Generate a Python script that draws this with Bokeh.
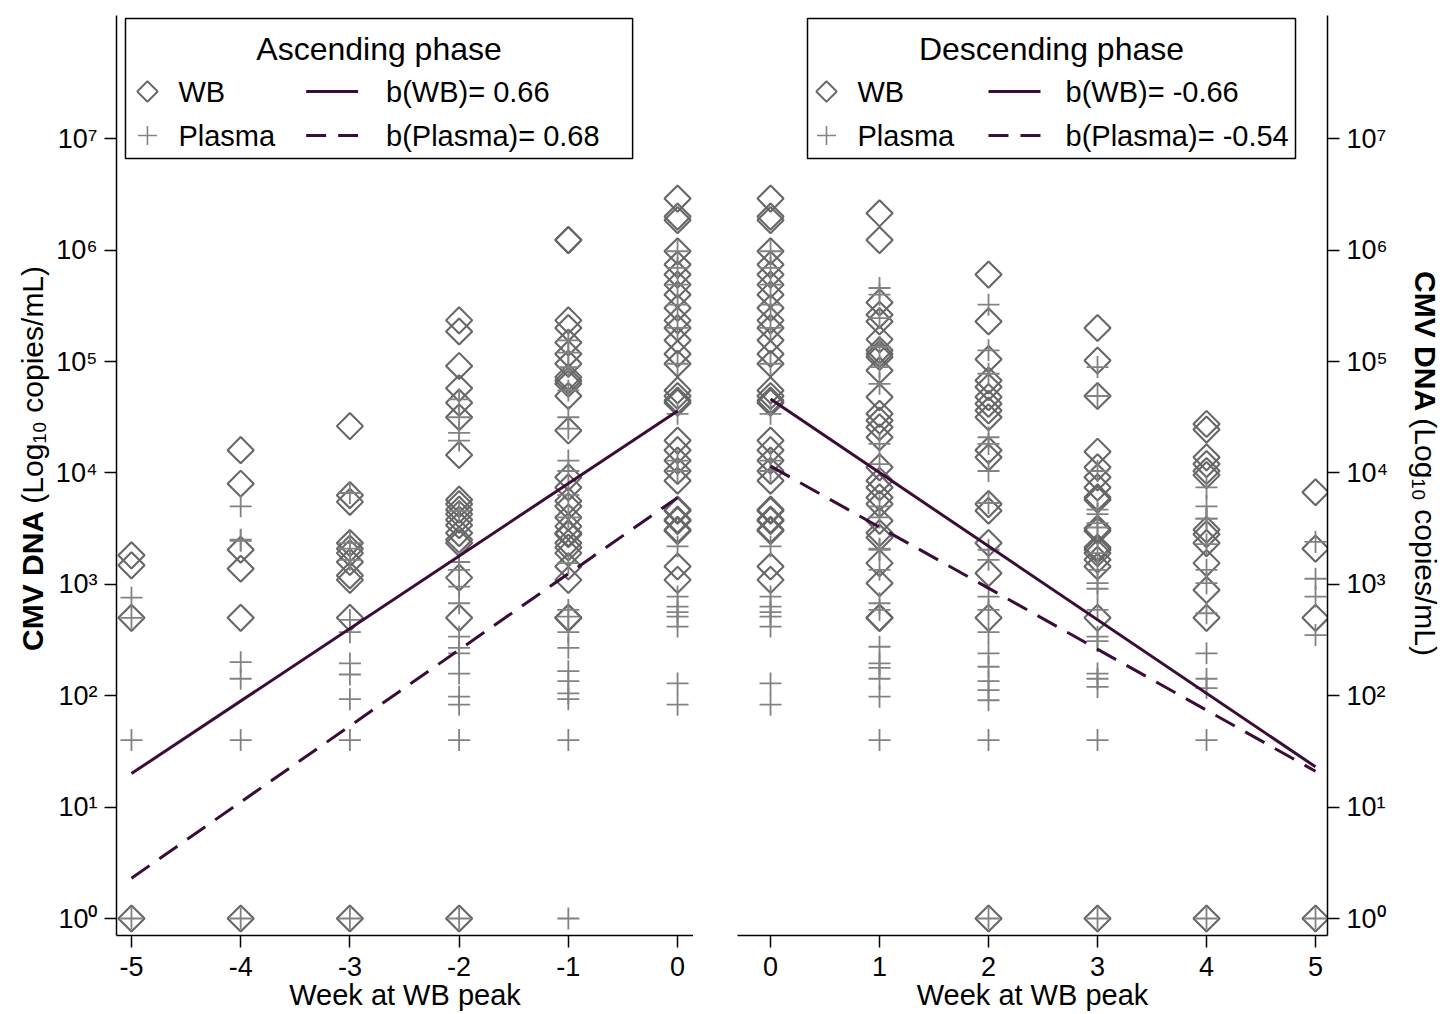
import math
from bokeh.plotting import figure
from bokeh.models import Range1d, FixedTicker, Label, BoxAnnotation
from bokeh.layouts import row
from bokeh.embed import file_html
from bokeh.resources import INLINE

# ---------------- data (CMV DNA copies/mL) ----------------
weeks_asc = [-5, -4, -3, -2, -1, 0]
weeks_desc = [0, 1, 2, 3, 4, 5]

# Whole blood (WB), ascending phase
wb_m5 = [1820, 1480, 500, 1]
wb_m4 = [16000, 8000, 2042, 1380, 500, 1]
wb_m3 = [26300, 6310, 5495, 2344, 2089, 1905, 1585, 1202, 1096, 500, 1]
wb_m2 = [234000, 186000, 91200, 57500, 42700, 31600, 14500, 5754, 5248, 4677,
         4266, 3802, 3388, 2884, 2512, 2344, 1148, 500, 1]
wb_m1 = [1230000, 1230000, 234000, 200000, 148000, 117000, 95500, 72400, 67600,
         63100, 49000, 24000, 9120, 7413, 5600, 5012, 3981, 3311, 2884, 2818,
         2344, 2138, 1905, 1445, 1096, 500, 500]
# week 0 (WB peak) is shared by both phases
wb_0 = [2900000, 2000000, 1860000, 977000, 741000, 603000, 490000, 398000, 302000,
        234000, 200000, 155000, 117000, 95500, 55000, 49000, 44700, 42700, 19500,
        16000, 12900, 10400, 8511, 4677, 4571, 3802, 3715, 3090, 3020, 1445, 1096]
# WB, descending phase
wb_p1 = [2140000, 1230000, 339000, 263000, 229000, 158000, 126000, 117000, 110000,
         83200, 47900, 33900, 29500, 25700, 20900, 11220, 8511, 7413, 6026, 5248,
         3715, 2884, 2630, 1549, 1023, 500, 500]
wb_p2 = [603000, 229000, 105000, 67600, 58900, 47900, 41700, 36300, 31600, 16000,
         13800, 5248, 4571, 2344, 1259, 500, 1]
wb_p3 = [200000, 102000, 49000, 15500, 11220, 9120, 7413, 6026, 5754, 3162, 3020,
         2138, 2042, 1905, 1660, 1445, 500, 1]
wb_p4 = [27500, 24500, 13800, 12000, 10400, 9550, 3090, 2818, 2344, 1549, 891, 500, 1]
wb_p5 = [6700, 2089, 500, 1]

# Plasma, ascending phase
pl_m5 = [759, 500, 40, 1]
pl_m4 = [5012, 2512, 2455, 200, 142, 40, 1]
pl_m3 = [6600, 2344, 2089, 1660, 479, 372, 195, 155, 93, 40, 1]
pl_m2 = [45700, 31600, 22900, 19500, 4571, 1585, 1349, 955, 676, 339, 269, 240,
         158, 98, 83, 40, 1]
pl_m1 = [155000, 120000, 89100, 55000, 31600, 25000, 12900, 10400, 6310, 3981,
         1549, 589, 513, 372, 269, 166, 135, 105, 93, 40, 1]
pl_0 = [977000, 692000, 490000, 324000, 200000, 95500, 33900, 12900, 10400, 2188,
        776, 631, 562, 513, 417, 129, 83]
# Plasma, descending phase
pl_p1 = [457000, 398000, 245000, 135000, 89100, 63100, 18200, 12000, 5012, 3981,
         2089, 2042, 1349, 676, 589, 275, 195, 178, 142, 98, 40]
pl_p2 = [324000, 126000, 77600, 20900, 18200, 10400, 5370, 2042, 1660, 776, 589,
         372, 240, 182, 135, 112, 91, 40, 1]
pl_p3 = [89100, 49000, 10400, 4677, 4266, 3548, 3236, 1905, 1349, 1023, 912, 589,
         339, 309, 158, 142, 120, 40, 1]
pl_p4 = [7413, 5012, 3890, 3890, 2291, 1349, 1023, 550, 240, 142, 117, 40, 1]
pl_p5 = [2400, 1122, 776, 350, 1]

# fitted regression lines (values at the ends of each phase)
fit_weeks_asc = [-5, 0]
fit_wb_asc = [20, 36000]
fit_pl_asc = [2.3, 6000]
fit_weeks_desc = [0, 5]
fit_wb_desc = [46000, 23]
fit_pl_desc = [11500, 21]

slope_labels_asc = ["b(WB)= 0.66", "b(Plasma)= 0.68"]
slope_labels_desc = ["b(WB)= -0.66", "b(Plasma)= -0.54"]
series_labels = ["WB", "Plasma"]
phase_titles = ["Ascending phase", "Descending phase"]
y_tick_exponents = [0, 1, 2, 3, 4, 5, 6, 7]
x_title = "Week at WB peak"
y_title_bold = "CMV DNA"
y_title_rest = "(Log\u2081\u2080 copies/mL)"

# ---------------- styling / layout ----------------
FONT = "Liberation Sans"
DIA_COLOR = "#676767"
CROSS_COLOR = "#828282"
FIT_COLOR = "#3a0c38"
DASH = "22 12"
H = 1014           # height of every figure
FT, FB = 15, 935   # frame top / bottom (page px)
LS, LE = -0.1526, 8.106  # log10 limits of the y-range
SUP = {0: "\u2070", 1: "\u00b9", 2: "\u00b2", 3: "\u00b3", 4: "\u2074",
       5: "\u2075", 6: "\u2076", 7: "\u2077"}

TL_W = 52          # left title strip
P1_X0 = TL_W
P2_X0 = 693
P2_W = 702
TR_X0 = P2_X0 + P2_W
TR_W = 52


def flatten(weeks, cols):
    xs, ys = [], []
    for w, vals in zip(weeks, cols):
        xs += [w] * len(vals)
        ys += list(vals)
    return xs, ys


def make_fig(width, xr, mbl, mbr, yloc, weeks):
    p = figure(width=width, height=H, x_range=Range1d(*xr),
               y_range=Range1d(10 ** LS, 10 ** LE), y_axis_type="log",
               y_axis_location=yloc, output_backend="svg", toolbar_location=None,
               min_border_left=mbl, min_border_right=mbr, min_border_top=FT,
               min_border_bottom=H - FB)
    p.outline_line_color = None
    p.grid.visible = False
    p.background_fill_color = "white"
    p.border_fill_color = "white"
    for ax in list(p.xaxis) + list(p.yaxis):
        ax.axis_line_color = "black"
        ax.axis_line_width = 1.5
        ax.major_tick_line_color = "black"
        ax.major_tick_line_width = 1.5
        ax.major_tick_out = 12
        ax.major_tick_in = 0
        ax.minor_tick_line_color = None
        ax.major_label_text_font = FONT
        ax.major_label_text_font_size = "27px"
        ax.major_label_text_color = "black"
    p.yaxis.ticker = FixedTicker(ticks=[10 ** e for e in y_tick_exponents])
    ov = {}
    for e in y_tick_exponents:
        ov[10 ** e] = "10" + SUP[e]
        ov[str(10 ** e)] = "10" + SUP[e]
    p.yaxis.major_label_overrides = ov
    p.yaxis.major_label_standoff = 7
    p.xaxis.ticker = FixedTicker(ticks=weeks)
    xov = {}
    for w in weeks:
        xov[w] = str(w)
        xov[str(w)] = str(w)
    p.xaxis.major_label_overrides = xov
    p.xaxis.major_label_standoff = 9
    p.xaxis.axis_label = x_title
    p.xaxis.axis_label_standoff = 0
    p.xaxis.axis_label_text_font = FONT
    p.xaxis.axis_label_text_font_size = "29px"
    p.xaxis.axis_label_text_font_style = "normal"
    p.xaxis.axis_label_text_color = "black"
    return p


def strip(width, x0):
    s = figure(width=width, height=H,
               x_range=Range1d(x0, x0 + width), y_range=Range1d(H, 0),
               x_axis_location=None, y_axis_location=None,
               output_backend="svg", toolbar_location=None,
               min_border=0, min_border_left=0, min_border_right=0,
               min_border_top=0, min_border_bottom=0)
    s.outline_line_color = None
    s.grid.visible = False
    s.background_fill_color = "white"
    s.border_fill_color = "white"
    return s


def mappers(fl, fr, xs, xe):
    X = lambda px: xs + (px - fl) * (xe - xs) / (fr - fl)
    Y = lambda py: 10 ** (LS + (FB - py) * (LE - LS) / (FB - FT))
    return X, Y


def draw_panel(p, weeks, wb_cols, pl_cols, fw, fwb, fpl):
    wx, wy = flatten(weeks, wb_cols)
    px_, py_ = flatten(weeks, pl_cols)
    p.scatter(wx, wy, marker="square", angle=math.pi / 4, size=18.5,
              fill_color=None, line_color=DIA_COLOR, line_width=2.1)
    p.scatter(px_, py_, marker="cross", size=22, line_color=CROSS_COLOR,
              line_width=1.8)
    p.line(fw, fwb, line_color=FIT_COLOR, line_width=3)
    p.line(fw, fpl, line_color=FIT_COLOR, line_width=3, line_dash=DASH)


def draw_legend(p, X, Y, box, title, slope_labels, mx, tx, l0, l1, stx):
    left, top, right, bottom = box
    p.add_layout(BoxAnnotation(left=X(left), right=X(right), top=Y(top),
                               bottom=Y(bottom), fill_color=None, fill_alpha=0,
                               line_color="black", line_alpha=1.0,
                               line_width=1.5))
    p.add_layout(Label(x=X((left + right) / 2), y=Y(48), text=title,
                       text_align="center", text_baseline="middle",
                       text_font=FONT, text_font_size="32px",
                       text_color="black"))
    rows = [91, 135]
    p.scatter([X(mx)], [Y(rows[0])], marker="square", angle=math.pi / 4,
              size=14.5, fill_color=None, line_color=DIA_COLOR, line_width=1.8)
    p.scatter([X(mx)], [Y(rows[1])], marker="cross", size=19,
              line_color=CROSS_COLOR, line_width=1.6)
    p.line([X(l0), X(l1)], [Y(rows[0])] * 2, line_color=FIT_COLOR, line_width=3)
    p.line([X(l0), X(l1)], [Y(rows[1])] * 2, line_color=FIT_COLOR, line_width=3,
           line_dash="20 12")
    for i, r in enumerate(rows):
        p.add_layout(Label(x=X(tx), y=Y(r), text=series_labels[i],
                           text_align="left", text_baseline="middle",
                           text_font=FONT, text_font_size="29px",
                           text_color="black"))
        p.add_layout(Label(x=X(stx), y=Y(r), text=slope_labels[i],
                           text_align="left", text_baseline="middle",
                           text_font=FONT, text_font_size="29px",
                           text_color="black"))


def y_title(s, px, junction, direction):
    # bold part ends at the junction, the rest starts just after it
    ang = math.pi / 2 if direction == "up" else -math.pi / 2
    gap = 8
    nxt = junction - gap if direction == "up" else junction + gap
    s.add_layout(Label(x=px, y=junction, text=y_title_bold, angle=ang,
                       text_align="right", text_baseline="middle",
                       text_font=FONT, text_font_size="30px",
                       text_font_style="bold", text_color="black"))
    s.add_layout(Label(x=px, y=nxt, text=y_title_rest, angle=ang,
                       text_align="left", text_baseline="middle",
                       text_font=FONT, text_font_size="30px",
                       text_color="black"))


# ---------------- left panel (ascending) ----------------
XL = (-5.137, 0.146)
p1 = make_fig(P2_X0 - P1_X0, XL, 115 - P1_X0, 0, "left", weeks_asc)
Xa, Ya = mappers(115, 693, *XL)
draw_panel(p1, weeks_asc, [wb_m5, wb_m4, wb_m3, wb_m2, wb_m1, wb_0],
           [pl_m5, pl_m4, pl_m3, pl_m2, pl_m1, pl_0],
           fit_weeks_asc, fit_wb_asc, fit_pl_asc)
draw_legend(p1, Xa, Ya, (124, 18, 632, 158), phase_titles[0], slope_labels_asc,
            146, 177, 305, 357, 385)

# ---------------- right panel (descending) ----------------
XR = (-0.303, 5.110)
p2 = make_fig(P2_W, XR, 737 - P2_X0, TR_X0 - 1327, "right", weeks_desc)
Xd, Yd = mappers(737, 1327, *XR)
draw_panel(p2, weeks_desc, [wb_0, wb_p1, wb_p2, wb_p3, wb_p4, wb_p5],
           [pl_0, pl_p1, pl_p2, pl_p3, pl_p4, pl_p5],
           fit_weeks_desc, fit_wb_desc, fit_pl_desc)
draw_legend(p2, Xd, Yd, (807, 18, 1295, 158), phase_titles[1], slope_labels_desc,
            826, 857, 988, 1040, 1065)

# ---------------- y-title strips (page-pixel coordinates) ----------------
tL = strip(TL_W, 0)
y_title(tL, 32, 546, "up")
tR = strip(TR_W, TR_X0)
y_title(tR, 1425, 436, "down")

layout = row(tL, p1, p2, tR, spacing=0)
open("out.html", "w").write(file_html(layout, INLINE))
